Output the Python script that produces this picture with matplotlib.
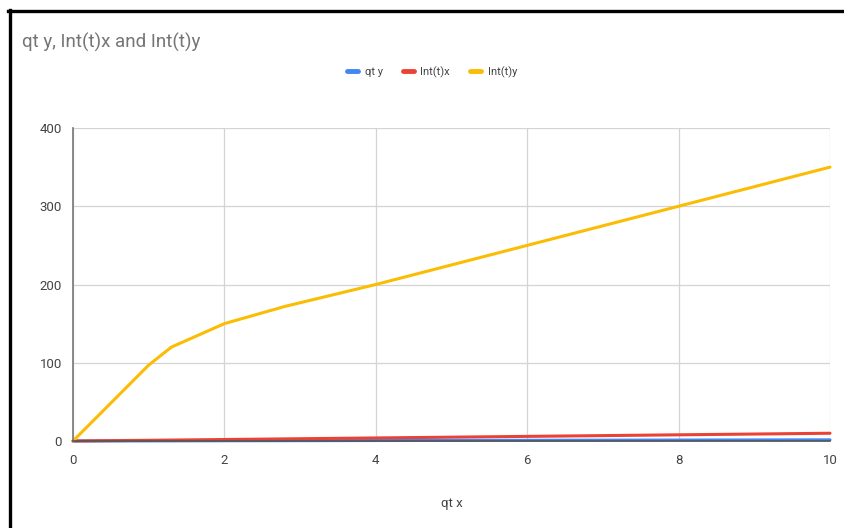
import matplotlib
matplotlib.use("Agg")
import matplotlib.pyplot as plt
from matplotlib.lines import Line2D

# Series data
qt_x = [0, 1, 1.3, 2, 2.8, 4, 6, 8, 10]
qt_y = [0, 0.1, 0.15, 0.3, 0.4, 0.6, 0.9, 1.2, 1.5]
int_t_x = [0, 0.9, 1.2, 1.9, 2.7, 3.9, 5.9, 7.9, 9.9]
int_t_y = [0, 97, 120, 150, 172, 200, 250, 300, 350]

x_ticks = [0, 2, 4, 6, 8, 10]
y_ticks = [0, 100, 200, 300, 400]

series_names = ["qt y", "Int(t)x", "Int(t)y"]
series_colors = ["#4285F4", "#EA4335", "#FBBC04"]

plt.rcParams["font.family"] = ["Roboto", "DejaVu Sans"]

W, H = 844, 528
fig = plt.figure(figsize=(W / 100, H / 100), dpi=100)
fig.patch.set_facecolor("white")

left, right, top, bottom = 73, 830, 128, 441
ax = fig.add_axes([left / W, 1 - bottom / H, (right - left) / W, (bottom - top) / H])

for ys, name, col in zip([qt_y, int_t_x, int_t_y], series_names, series_colors):
    ax.plot(qt_x, ys, color=col, lw=2.2, label=name, solid_capstyle="round",
            solid_joinstyle="round", clip_on=False)

ax.set_xlim(0, 10)
ax.set_ylim(0, 400)
ax.set_xticks(x_ticks)
ax.set_yticks(y_ticks)
ax.set_xticklabels([str(v) for v in x_ticks])
ax.set_yticklabels([str(v) for v in y_ticks])
ax.grid(True, color="#d4d4d4", lw=0.9)
ax.set_axisbelow(True)
ax.tick_params(length=0, labelsize=9.5, labelcolor="#444444")
ax.tick_params(axis="x", pad=9)
ax.tick_params(axis="y", pad=8)
for s in ["top", "right"]:
    ax.spines[s].set_visible(False)
ax.spines["left"].set_color("#777777")
ax.spines["left"].set_linewidth(1.2)
ax.spines["bottom"].set_color("#555555")
ax.spines["bottom"].set_linewidth(1.2)

ax.set_xlabel("qt x", fontsize=9.5, color="#444444", labelpad=22)

fig.text(22 / W, 1 - 42 / H, "qt y, Int(t)x and Int(t)y", fontsize=13.5,
         color="#757575", ha="left", va="center")

handles = [Line2D([0], [0], color=c, lw=3.5, solid_capstyle="round") for c in series_colors]
fig.legend(handles, series_names, loc="center", bbox_to_anchor=(432 / W, 1 - 72 / H),
           ncol=3, frameon=False, fontsize=8, labelcolor="#444444",
           handlelength=1.0, handletextpad=0.6, columnspacing=1.8)

# Frame lines along the left and top edges
fig.add_artist(Line2D([9.5 / W, 9.5 / W], [0, 1 - 10 / H], color="black", lw=2.4,
                      transform=fig.transFigure))
fig.add_artist(Line2D([8.3 / W, 1], [1 - 11 / H, 1 - 11 / H], color="black", lw=2.4,
                      transform=fig.transFigure))

fig.savefig("out.png", dpi=100)
